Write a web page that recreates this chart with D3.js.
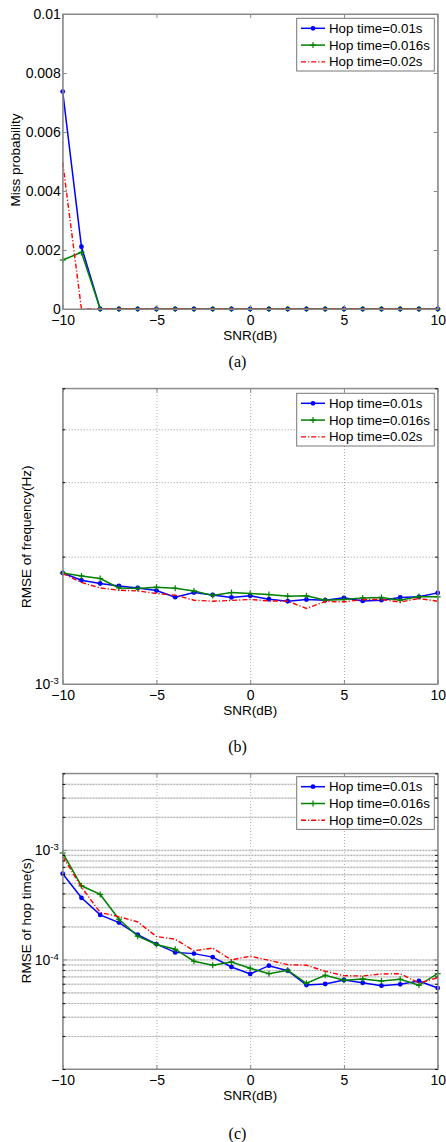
<!DOCTYPE html>
<html><head><meta charset="utf-8">
<script src="https://cdn.jsdelivr.net/npm/d3@7"></script>
<style>body{margin:0;background:#fff} svg{display:block}</style>
</head><body>
<svg id="c" width="446" height="1142"></svg>
<script>
const snr = [-10,-9,-8,-7,-6,-5,-4,-3,-2,-1,0,1,2,3,4,5,6,7,8,9,10];
const xTicks = [-10,-5,0,5,10];
const legendLabels = ["Hop time=0.01s","Hop time=0.016s","Hop time=0.02s"];

const missBlue  = [0.00737,0.00211,0,0,0,0,0,0,0,0,0,0,0,0,0,0,0,0,0,0,0];
const missGreen = [0.00166,0.00192,0,0,0,0,0,0,0,0,0,0,0,0,0,0,0,0,0,0,0];
const missRed   = [0.00497,0,0,0,0,0,0,0,0,0,0,0,0,0,0,0,0,0,0,0,0];
const missTicks = [0,0.002,0.004,0.006,0.008,0.01];
const missTickLabels = ["0","0.002","0.004","0.006","0.008","0.01"];

const freqBlue  = [1.830e-3,1.759e-3,1.728e-3,1.705e-3,1.687e-3,1.663e-3,1.604e-3,1.645e-3,1.624e-3,1.602e-3,1.616e-3,1.586e-3,1.569e-3,1.584e-3,1.578e-3,1.598e-3,1.572e-3,1.578e-3,1.602e-3,1.607e-3,1.642e-3];
const freqGreen = [1.830e-3,1.801e-3,1.776e-3,1.687e-3,1.682e-3,1.693e-3,1.684e-3,1.660e-3,1.619e-3,1.645e-3,1.636e-3,1.627e-3,1.613e-3,1.616e-3,1.578e-3,1.584e-3,1.598e-3,1.602e-3,1.578e-3,1.610e-3,1.607e-3];
const freqRed   = [1.824e-3,1.738e-3,1.687e-3,1.666e-3,1.660e-3,1.636e-3,1.622e-3,1.578e-3,1.569e-3,1.576e-3,1.584e-3,1.572e-3,1.569e-3,1.509e-3,1.567e-3,1.564e-3,1.584e-3,1.584e-3,1.562e-3,1.593e-3,1.569e-3];

const hopBlue  = [6.06e-4,3.65e-4,2.55e-4,2.17e-4,1.68e-4,1.38e-4,1.16e-4,1.13e-4,1.05e-4,0.854e-4,0.737e-4,0.877e-4,0.79e-4,0.584e-4,0.597e-4,0.649e-4,0.613e-4,0.576e-4,0.593e-4,0.636e-4,0.548e-4];
const hopGreen = [9.37e-4,4.70e-4,3.92e-4,2.33e-4,1.63e-4,1.37e-4,1.24e-4,0.963e-4,0.885e-4,0.949e-4,0.831e-4,0.741e-4,0.797e-4,0.606e-4,0.717e-4,0.645e-4,0.664e-4,0.636e-4,0.659e-4,0.581e-4,0.741e-4];
const hopRed   = [8.72e-4,4.58e-4,2.68e-4,2.46e-4,2.20e-4,1.62e-4,1.53e-4,1.20e-4,1.27e-4,0.99e-4,1.07e-4,0.983e-4,0.896e-4,0.885e-4,0.780e-4,0.711e-4,0.706e-4,0.737e-4,0.741e-4,0.610e-4,0.681e-4];

const SANS = "'Liberation Sans', Arial, sans-serif";
const SERIF = "'Liberation Serif', 'Times New Roman', serif";
const colors = ["#0000ff","#008000","#ff0000"];
const AX = "#888";

const svg = d3.select("#c");
const x = d3.scaleLinear().domain([-10,10]).range([62.7,437.7]);

function minorLog(domain){
  const out=[];
  for(let e=-6;e<=0;e++){
    for(let m=1;m<=9;m++){
      const v=m*Math.pow(10,e);
      if(v>=domain[0]*0.999 && v<=domain[1]*1.001) out.push(v);
    }
  }
  return out;
}

function panel(cfg){
  const g = svg.append("g");
  const L = x.range()[0], R = x.range()[1];
  const y = (cfg.log ? d3.scaleLog() : d3.scaleLinear()).domain(cfg.domain).range([cfg.bottom, cfg.top]);
  const H = cfg.bottom - cfg.top, W = R - L;

  if(cfg.grid){
    const gv = g.append("g").attr("transform",`translate(0,${cfg.bottom})`)
      .call(d3.axisBottom(x).tickValues([-5,0,5]).tickSize(-H).tickFormat(""));
    gv.select(".domain").remove();
    gv.selectAll("line").attr("stroke","#aaa").attr("stroke-dasharray","1,2");
    const hv = cfg.hgrid;
    if(cfg.hband){
      const gb = g.append("g").attr("transform",`translate(${L},0)`)
        .call(d3.axisLeft(y).tickValues(hv).tickSize(-W).tickFormat(""));
      gb.select(".domain").remove();
      gb.selectAll("line").attr("stroke","#e2e2e2").attr("stroke-width",1.6);
    }
    const gh = g.append("g").attr("transform",`translate(${L},0)`)
      .call(d3.axisLeft(y).tickValues(hv).tickSize(-W).tickFormat(""));
    gh.select(".domain").remove();
    gh.selectAll("line").attr("stroke","#999").attr("stroke-dasharray","1,2");
  }

  // series
  const line = d3.line().x((d,i)=>x(snr[i])).y(d=>y(d));
  cfg.series.forEach((s,k)=>{
    const p = g.append("path").datum(s).attr("d",line).attr("fill","none")
      .attr("stroke",colors[k]).attr("stroke-width",k===2?1.4:1.5);
    if(k===2) p.attr("stroke-dasharray","5,2,1.2,2");
    if(k===0){
      g.append("g").selectAll("circle").data(s).join("circle")
        .attr("cx",(d,i)=>x(snr[i])).attr("cy",d=>y(d)).attr("r",2.4).attr("fill",colors[0]);
    } else if(k===1){
      const gp = g.append("g").selectAll("g").data(s).join("g")
        .attr("transform",(d,i)=>`translate(${x(snr[i])},${y(d)})`);
      gp.append("line").attr("x1",-3).attr("x2",3).attr("stroke",colors[1]).attr("stroke-width",1.2);
      gp.append("line").attr("y1",-3).attr("y2",3).attr("stroke",colors[1]).attr("stroke-width",1.2);
    }
  });

  // frame
  g.append("rect").attr("x",L).attr("y",cfg.top).attr("width",W).attr("height",H)
    .attr("fill","none").attr("stroke",AX).attr("stroke-width",1);

  // x axes
  const xb = g.append("g").attr("transform",`translate(0,${cfg.bottom})`)
    .call(d3.axisBottom(x).tickValues(xTicks).tickSizeInner(-4).tickSizeOuter(0).tickPadding(6).tickFormat(d3.format("d")));
  const xt = g.append("g").attr("transform",`translate(0,${cfg.top})`)
    .call(d3.axisTop(x).tickValues(xTicks).tickSizeInner(-4).tickSizeOuter(0).tickFormat(""));
  // y axes
  const ya = cfg.log
    ? d3.axisLeft(y).tickValues(cfg.yTicks).tickSizeInner(-4).tickSizeOuter(0).tickPadding(4).tickFormat(()=> "")
    : d3.axisLeft(y).tickValues(cfg.yTicks).tickSizeInner(-4).tickSizeOuter(0).tickPadding(2).tickFormat((d,i)=>cfg.yTickLabels[i]);
  const yl = g.append("g").attr("transform",`translate(${L},0)`).call(ya);
  const yr = g.append("g").attr("transform",`translate(${R},0)`)
    .call(d3.axisRight(y).tickValues(cfg.yTicks).tickSizeInner(-4).tickSizeOuter(0).tickFormat(""));
  if(cfg.log){
    const mn = minorLog(cfg.domain).filter(v=>cfg.yTicks.indexOf(v)<0);
    g.append("g").attr("transform",`translate(${L},0)`)
      .call(d3.axisLeft(y).tickValues(mn).tickSizeInner(-2.5).tickSizeOuter(0).tickFormat(""))
      .select(".domain").remove();
    g.append("g").attr("transform",`translate(${R},0)`)
      .call(d3.axisRight(y).tickValues(mn).tickSizeInner(-2.5).tickSizeOuter(0).tickFormat(""))
      .select(".domain").remove();
    // superscript labels
    yl.selectAll(".tick text").each(function(d){
      const t = d3.select(this).text(null).attr("x",-4).attr("dy","0.35em");
      t.append("tspan").text("10");
      t.append("tspan").attr("dy","-0.55em").attr("font-size","9.5px").text(String(Math.round(Math.log10(d))));
    });
  }
  [xb,xt,yl,yr].forEach(a=>{
    a.select(".domain").attr("stroke",AX);
    a.selectAll(".tick line").attr("stroke",AX);
    a.selectAll("text").attr("font-family",SANS).attr("font-size","14px").attr("fill","#000");
  });

  // axis labels
  g.append("text").attr("x",(L+R)/2).attr("y",cfg.bottom+26).attr("text-anchor","middle")
    .attr("dominant-baseline","central").attr("font-family",SANS).attr("font-size","13.5px").text("SNR(dB)");
  g.append("text").attr("transform",`translate(${cfg.ylabelX},${cfg.ylabelY}) rotate(-90)`)
    .attr("text-anchor","middle").attr("dominant-baseline","central")
    .attr("font-family",SANS).attr("font-size","13.5px").text(cfg.ylabel);
  g.append("text").attr("x",237.5).attr("y",cfg.captionY).attr("text-anchor","middle")
    .attr("dominant-baseline","central").attr("font-family",SERIF).attr("font-size","16px").text(cfg.caption);

  // legend
  const lx = 296.7, lw = 137.6, lt = cfg.legendTop, lh = 52.7;
  const lg = g.append("g");
  lg.append("rect").attr("x",lx).attr("y",lt).attr("width",lw).attr("height",lh)
    .attr("fill","#fff").attr("stroke","#777").attr("stroke-width",1);
  legendLabels.forEach((lab,k)=>{
    const yy = lt + 10 + k*16.8;
    const l = lg.append("line").attr("x1",301).attr("x2",325).attr("y1",yy).attr("y2",yy)
      .attr("stroke",colors[k]).attr("stroke-width",k===2?1.4:1.5);
    if(k===2) l.attr("stroke-dasharray","5,2,1.2,2");
    if(k===0) lg.append("circle").attr("cx",313).attr("cy",yy).attr("r",2.4).attr("fill",colors[0]);
    if(k===1){
      lg.append("line").attr("x1",310).attr("x2",316).attr("y1",yy).attr("y2",yy).attr("stroke",colors[1]).attr("stroke-width",1.2);
      lg.append("line").attr("x1",313).attr("x2",313).attr("y1",yy-3).attr("y2",yy+3).attr("stroke",colors[1]).attr("stroke-width",1.2);
    }
    lg.append("text").attr("x",329).attr("y",yy).attr("dominant-baseline","central")
      .attr("font-family",SANS).attr("font-size","13.3px").text(lab);
  });
}

panel({top:14, bottom:309, log:false, domain:[0,0.01], yTicks:missTicks, yTickLabels:missTickLabels,
  series:[missBlue,missGreen,missRed], grid:false, ylabel:"Miss probability", ylabelX:15, ylabelY:160,
  caption:"(a)", captionY:361, legendTop:18.3});

panel({top:388.3, bottom:684, log:true, domain:[1e-3,5e-3], yTicks:[1e-3],
  series:[freqBlue,freqGreen,freqRed], grid:true, hgrid:[2e-3,3e-3,4e-3], hband:false,
  ylabel:"RMSE of frequency(Hz)", ylabelX:26.7, ylabelY:536.7,
  caption:"(b)", captionY:746.5, legendTop:393.3});

panel({top:773.3, bottom:1069, log:true, domain:[1e-5,5e-3], yTicks:[1e-4,1e-3],
  series:[hopBlue,hopGreen,hopRed], grid:true, hgrid:[2e-5,3e-5,4e-5,5e-5,6e-5,7e-5,8e-5,9e-5,1e-4,2e-4,3e-4,4e-4,5e-4,6e-4,7e-4,8e-4,9e-4,1e-3,2e-3,3e-3,4e-3], hband:true,
  ylabel:"RMSE of hop time(s)", ylabelX:26.7, ylabelY:920.7,
  caption:"(c)", captionY:1133, legendTop:776.7});
</script>
</body></html>
